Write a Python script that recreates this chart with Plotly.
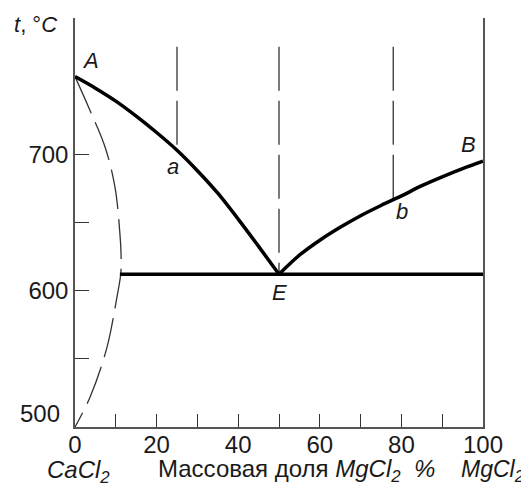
import plotly.graph_objects as go

# Liquidus branch A–a–E (CaCl2 side)
liq_ae_x = [0, 5, 10, 15, 20, 25, 30, 35, 40, 45, 50]
liq_ae_y = [757, 748.5, 739, 728, 716, 703, 688, 671.5, 652.5, 632.5, 612]
# Liquidus branch E–b–B (MgCl2 side)
liq_eb_x = [50, 55, 60, 65, 70, 75, 80, 85, 90, 95, 100]
liq_eb_y = [612, 626, 637, 646.5, 655, 662.5, 669.5, 677, 683.5, 689.5, 695]
# Solid-solution boundary (dashed)
sol_x = [0, 3.7, 7.4, 9.8, 11, 11.3, 11.2, 10.2, 7.8, 3.7, 0]
sol_y = [757, 732, 705, 676, 642, 625, 612, 594, 558, 522, 500]
# Eutectic horizontal
eut_x = [11, 100]
eut_y = [612, 612]
# Vertical composition lines: x, top, bottom
vert_x = [25, 50, 78]
vert_top = [779, 779, 779]
vert_bot = [703, 612, 667]

x_major = [0, 20, 40, 60, 80, 100]
x_minor = [10, 30, 50, 70, 90]
y_major = [600, 700]
y_minor = [550, 650]

FONT = "Liberation Sans, Arial, sans-serif"
ink = "#1a1a1a"

fig = go.Figure()

for vx, vt, vb in zip(vert_x, vert_top, vert_bot):
    fig.add_trace(go.Scatter(x=[vx, vx], y=[vt, vb], mode="lines",
                             line=dict(color="#333333", width=1.3, dash="44px,10px"),
                             hoverinfo="skip", showlegend=False))

fig.add_trace(go.Scatter(x=sol_x, y=sol_y, mode="lines",
                         line=dict(color="#333333", width=1.3, dash="40px,10px",
                                   shape="spline", smoothing=1.0),
                         hoverinfo="skip", showlegend=False))

fig.add_trace(go.Scatter(x=eut_x, y=eut_y, mode="lines",
                         line=dict(color="black", width=3.5),
                         hoverinfo="skip", showlegend=False))
fig.add_trace(go.Scatter(x=liq_ae_x, y=liq_ae_y, mode="lines",
                         line=dict(color="black", width=3.5, shape="spline", smoothing=0.8),
                         hoverinfo="skip", showlegend=False))
fig.add_trace(go.Scatter(x=liq_eb_x, y=liq_eb_y, mode="lines",
                         line=dict(color="black", width=3.5, shape="spline", smoothing=1.0),
                         hoverinfo="skip", showlegend=False))

ann = []
def lab(text, x, y, xref="x", yref="y", size=22, xanchor="center"):
    ann.append(dict(text=text, x=x, y=y, xref=xref, yref=yref, showarrow=False,
                    font=dict(family=FONT, size=size, color=ink), xanchor=xanchor,
                    yanchor="middle"))

lab("<i>A</i>", 3.85, 769)
lab("<i>a</i>", 24.1, 691)
lab("<i>b</i>", 80.1, 658)
lab("<i>B</i>", 96.4, 707)
lab("<i>E</i>", 50.2, 599)
lab("<i>t</i>, °<i>C</i>", -0.098, 0.983, xref="paper", yref="paper")
lab("500", -0.032, 0.034, xref="paper", yref="paper", size=24, xanchor="right")
lab("<i>CaCl<sub>2</sub></i>", 0.008, -0.108, xref="paper", yref="paper", size=24)
lab("Массовая доля <i>MgCl<sub>2</sub></i>  <i>%</i>", 0.544, -0.107, xref="paper", yref="paper", size=24)
lab("<i>MgCl<sub>2</sub></i>", 0.94, -0.107, xref="paper", yref="paper", size=23, xanchor="left")

# page body adds an 8px offset; size the figure so the plot lands where the reference has it
fig.update_layout(
    width=521, height=487,
    margin=dict(l=67, r=46, t=10, b=68),
    paper_bgcolor="white", plot_bgcolor="white",
    font=dict(family=FONT, size=22, color=ink),
    annotations=ann,
    showlegend=False,
)
fig.update_xaxes(range=[0, 100], tickmode="array", tickvals=x_major,
                 ticks="inside", ticklen=13, tickwidth=1.3, tickcolor="#333333",
                 minor=dict(tickmode="array", tickvals=x_minor, ticks="inside",
                            ticklen=13, tickwidth=1.3, tickcolor="#333333", showgrid=False),
                 showline=True, linecolor="#555555", linewidth=1.5,
                 showgrid=False, zeroline=False, tickfont=dict(size=24),
                 ticklabelstandoff=-5)
fig.update_yaxes(range=[500, 800], tickmode="array", tickvals=y_major,
                 ticks="inside", ticklen=14, tickwidth=1.3, tickcolor="#333333",
                 minor=dict(tickmode="array", tickvals=y_minor, ticks="inside",
                            ticklen=14, tickwidth=1.3, tickcolor="#333333", showgrid=False),
                 showline=True, linecolor="#555555", linewidth=1.5, mirror=True,
                 showgrid=False, zeroline=False, tickfont=dict(size=24))

fig.write_html("out.html")
